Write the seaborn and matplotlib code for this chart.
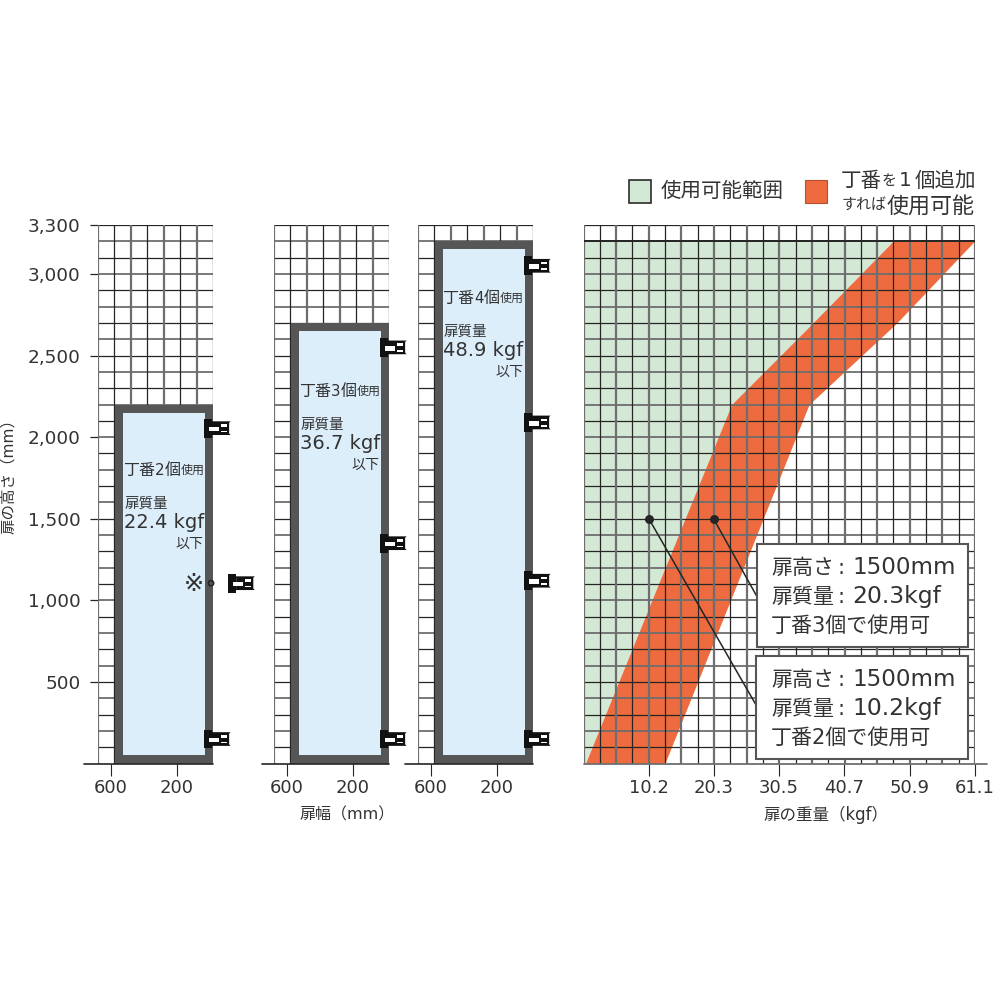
import matplotlib
matplotlib.use("Agg")
import matplotlib.pyplot as plt
from matplotlib.patches import Rectangle, FancyBboxPatch
import numpy as np
import pandas as pd
import seaborn as sns

sns.set_theme(style="white")
FAM = ["DejaVu Sans", "Noto Sans CJK JP"]
plt.rcParams["font.family"] = FAM
plt.rcParams["axes.unicode_minus"] = False

# ---- data ----
height_ticks = [500, 1000, 1500, 2000, 2500, 3000, 3300]
height_labels = ["500", "1,000", "1,500", "2,000", "2,500", "3,000", "3,300"]
width_ticks = [600, 200]
weight_ticks = [10.2, 20.3, 30.5, 40.7, 50.9, 61.1]
weight_labels = ["10.2", "20.3", "30.5", "40.7", "50.9", "61.1"]
door_heights = [2200, 2700, 3200]
door_hinges = [[2055, 150], [2550, 1350, 150], [3050, 2090, 1120, 150]]
hinge_counts = ["2", "3", "4"]
door_mass = ["22.4", "36.7", "48.9"]
extra_hinge_height = 1105
limit_height = [0, 2200, 2700, 3200]
limit_two_hinge = [0.3, 23.1, 35.8, 48.3]   # left edge of orange band
limit_add_hinge = [12.7, 35.2, 48.9, 61.0]  # right edge of orange band
example_mass = [10.2, 20.3]
example_height = [1500, 1500]

PX = 1000.0
INK = "#333333"
DARK = "#252525"
MID = "#6e6e6e"
FRAME = "#565656"
BLUE = "#ddeefb"
GREEN = "#d3e8d5"
ORANGE = "#ee6b40"

fig = plt.figure(figsize=(10, 10), dpi=100, facecolor="white")
Y0, Y1 = 763.5, 225.0


def panel(left, right):
    ax = fig.add_axes([left / PX, 1 - Y0 / PX, (right - left) / PX, (Y0 - Y1) / PX])
    ax.set_ylim(0, 3300)
    ax.set_facecolor("none")
    sns.despine(ax=ax, left=True, bottom=True, right=True, top=True)
    ax.set_yticks([])
    return ax


def txt(x, y, s, size, ha="left", va="center", **kw):
    kw.setdefault("color", INK)
    return fig.text(x / PX, 1 - y / PX, s, fontsize=size * 0.72, ha=ha, va=va,
                    family=FAM, **kw)


def runs(x, y, parts):
    r = fig.canvas.get_renderer()
    for part in parts:
        if isinstance(part, (int, float)):
            x += part
            continue
        s, size = part
        t = txt(x, y, s, size, va="center_baseline")
        x += t.get_window_extent(r).width


def grid(ax, xs):
    for i, h in enumerate(range(3300, 0, -100)):
        dark = i % 2 == 0
        ax.hlines(h, xs[0], xs[-1], color=DARK if dark else MID,
                  lw=0.9 if dark else 1.3, zorder=2)
    for i, x in enumerate(xs):
        dark = i % 2 == 1
        ax.vlines(x, 0, 3300, color=DARK if dark else MID,
                  lw=0.9 if dark else 1.6, zorder=2)


def hinge(ax, h, shift=0.0):
    # drawn in data units: 100 mm = 16.3 px
    u = 100 / 16.3
    x = -20 + 9 * u - shift
    kw = dict(clip_on=False, zorder=6)
    ax.add_patch(Rectangle((x, h - 58), -8 * u, 116, fc="#111111", ec="none", **kw))
    ax.add_patch(FancyBboxPatch((x - 8 * u, h - 42), -17 * u, 84,
                                boxstyle="round,pad=0,rounding_size=14",
                                mutation_aspect=1,
                                fc="#111111", ec="none", **kw))
    ax.add_patch(Rectangle((x - 5 * u, h - 20), -10 * u, 28, fc="white", ec="none",
                           clip_on=False, zorder=7))
    ax.add_patch(Rectangle((x - 17 * u, h + 8), -6 * u, 16, fc="white", ec="none",
                           clip_on=False, zorder=7))
    ax.add_patch(Rectangle((x - 17 * u, h - 26), -6 * u, 10, fc="white", ec="none",
                           clip_on=False, zorder=7))


# ---- door panels ----
door_px = [(98, 213), (274, 389), (418, 533)]
axis_left = [765, 755, 760]
doors = []
for n, (l, r) in enumerate(door_px):
    ax = panel(l, r)
    ax.set_xlim(680, -20)
    grid(ax, np.arange(680, -21, -100))
    dh = door_heights[n]
    ax.add_patch(Rectangle((575, 0), -595, dh, fc=FRAME, ec="none", zorder=3))
    ax.add_patch(Rectangle((525, 50), -495, dh - 100, fc=BLUE, ec="none", zorder=4))
    ax.plot([axis_left[n], -20], [0, 0], color=DARK, lw=1.2, clip_on=False, zorder=5)
    ax.set_xticks(width_ticks)
    ax.set_xticklabels([str(v) for v in width_ticks], fontsize=13, color=INK)
    ax.tick_params(axis="x", bottom=True, length=8.5, width=0.8, color=DARK, pad=3)
    for h in door_hinges[n]:
        hinge(ax, h)
    doors.append(ax)

ax0 = doors[0]
ax0.set_yticks(height_ticks)
ax0.set_yticklabels(height_labels, fontsize=13.3, color=INK)
ax0.tick_params(axis="y", left=True, length=6, width=0.9, color=DARK, pad=6.5)
hinge(ax0, extra_hinge_height, shift=24 * 100 / 16.3)
sns.scatterplot(x=[-8], y=[extra_hinge_height], ax=ax0, s=14, facecolor="none",
                edgecolor=DARK, linewidth=1.2, clip_on=False, zorder=6, legend=False)
ax0.set_xlim(680, -20)
ax0.set_ylim(0, 3300)

# ---- door captions ----
cap_x = [125, 301, 444]
cap_r = [204, 380, 524]
cap_y = [469, 390, 297]
for n in range(3):
    x, rt, y = cap_x[n], cap_r[n], cap_y[n]
    runs(x - 2, y, [("丁番", 16), (hinge_counts[n], 15), ("個", 16), ("使用", 12)])
    txt(x, y + 34, "扉質量", 14.5)
    txt(x - 1, y + 53, f"{door_mass[n]} kgf", 19.5)
    txt(rt, y + 75, "以下", 14, ha="right")
txt(194, 584, "※", 24, ha="center")

txt(9, 473, "扉の高さ（mm）", 15.5, ha="center", rotation=90)
txt(347, 815, "扉幅（mm）", 16, ha="center")
txt(826, 815, "扉の重量（kgf）", 16.5, ha="center")

# ---- load chart ----
ax = panel(583.5, 975)
ax.set_xlim(0, 61.1)
band = pd.DataFrame({"height": limit_height, "low": limit_two_hinge, "high": limit_add_hinge})
ax.fill_betweenx(band["height"], 0, band["low"], color=GREEN, lw=0, zorder=1)
ax.fill_betweenx(band["height"], band["low"], band["high"], color=ORANGE, lw=0, zorder=1)
grid(ax, [61.1 * i / 24 for i in range(25)])
ax.hlines(3200, 0, 61.1, color=DARK, lw=1.4, zorder=2)
ax.plot([0, 62.9], [0, 0], color=MID, lw=1.3, clip_on=False, zorder=5)
ax.set_xticks(weight_ticks)
ax.set_xticklabels(weight_labels, fontsize=13, color=INK)
ax.tick_params(axis="x", bottom=True, length=8.5, width=0.8, color=DARK, pad=3)

leader_end_x = [27.1, 27.1]
leader_end_y = [347, 1021]
for i in range(2):
    sns.lineplot(x=[example_mass[i], leader_end_x[i]],
                 y=[example_height[i], leader_end_y[i]],
                 ax=ax, color=DARK, lw=1.1, zorder=5, estimator=None,
                 sort=False, legend=False)
sns.scatterplot(x=example_mass, y=example_height, ax=ax, color=DARK, s=42,
                linewidth=0, zorder=6, legend=False)
ax.set_xlim(0, 61.1)
ax.set_ylim(0, 3300)
ax.set_xlabel("")
ax.set_ylabel("")


def box(l, t, r, b, fc, ec, lw):
    fig.add_artist(Rectangle((l / PX, 1 - b / PX), (r - l) / PX, (b - t) / PX,
                             transform=fig.transFigure, fc=fc, ec=ec, lw=lw, zorder=8))


box(757, 544, 968, 647, "white", FRAME, 1.5)
box(756, 656, 968, 759, "white", FRAME, 1.5)
notes = [("1500mm", "20.3kgf", "3", 568), ("1500mm", "10.2kgf", "2", 680)]
for hgt, mass, cnt, y in notes:
    txt(771, y, "扉高さ", 21, zorder=9)
    txt(841, y, ":", 21, ha="center", zorder=9)
    txt(852, y, hgt, 23, zorder=9)
    txt(771, y + 29, "扉質量", 21, zorder=9)
    txt(841, y + 29, ":", 21, ha="center", zorder=9)
    txt(852, y + 29, mass, 23.5, zorder=9)
    txt(771, y + 58, f"丁番{cnt}個で使用可", 21, zorder=9)

# ---- legend ----
box(629, 180, 651, 203, GREEN, "#2b2b2b", 1.2)
box(805, 180, 827, 203, ORANGE, "#b5502f", 0.8)
txt(661, 191, "使用可能範囲", 20.5)
runs(841, 179, [("丁番", 20.5), ("を", 15), 2, ("1", 20), 3, ("個追加", 20.5)])
runs(842, 204, [("すれば", 15), ("使用可能", 22)])

fig.savefig("out.png", dpi=100, facecolor="white")
